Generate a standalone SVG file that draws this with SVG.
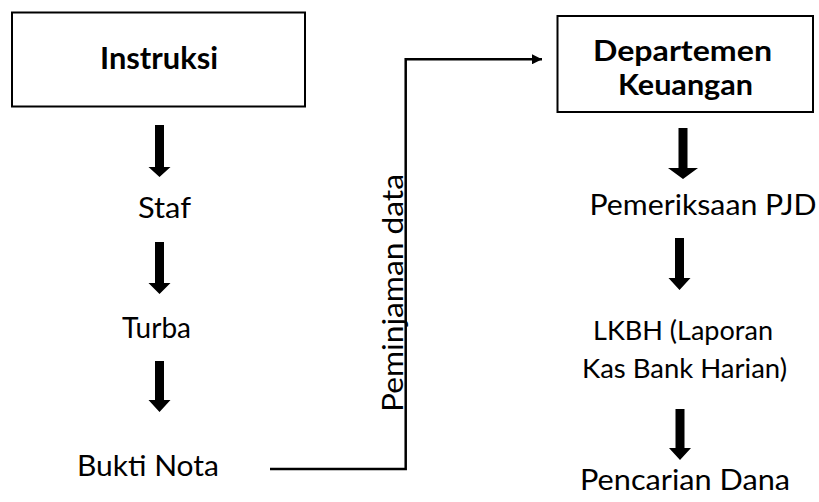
<svg xmlns="http://www.w3.org/2000/svg" width="819" height="502" viewBox="0 0 819 502">
<style>
.box{fill:#fff;stroke:#000;stroke-width:2}
.t{font-family:Lato,"Open Sans","Liberation Sans",sans-serif;fill:#000;text-anchor:middle}
.b{font-weight:bold;font-size:30px}
.b2{font-weight:bold;font-size:28px}
.r{font-size:29.5px}
.s{font-size:27.5px}
.ar{fill:#000;stroke:none}
.ln{fill:none;stroke:#000;stroke-width:2.5}
</style>
<defs>
<marker id="ah" markerUnits="userSpaceOnUse" markerWidth="12" markerHeight="10" refX="10" refY="5" orient="auto">
<path d="M0,0 L10,5 L0,10 Z" fill="#000"/>
</marker>
</defs>
<rect width="819" height="502" fill="#fff"/>
<g id="instruksi">
<rect class="box" x="12" y="12.5" width="293" height="94"/>
<text class="t b" x="159" y="69" textLength="118" lengthAdjust="spacingAndGlyphs">Instruksi</text>
</g>
<g id="staf"><text class="t r" x="164.5" y="217.5" textLength="53" lengthAdjust="spacingAndGlyphs">Staf</text></g>
<g id="turba"><text class="t r" x="156.5" y="338" textLength="69" lengthAdjust="spacingAndGlyphs">Turba</text></g>
<g id="bukti-nota"><text class="t r" x="148" y="476" textLength="142" lengthAdjust="spacingAndGlyphs">Bukti Nota</text></g>
<g id="departemen-keuangan">
<rect class="box" x="557.5" y="16" width="255.5" height="96"/>
<text class="t b2" x="682.5" y="61" textLength="179" lengthAdjust="spacingAndGlyphs">Departemen</text>
<text class="t b2" x="685.5" y="95" textLength="135" lengthAdjust="spacingAndGlyphs">Keuangan</text>
</g>
<g id="pemeriksaan"><text class="t r" x="703" y="215" textLength="227" lengthAdjust="spacingAndGlyphs">Pemeriksaan PJD</text></g>
<g id="lkbh">
<text class="t s" x="683" y="340" textLength="180" lengthAdjust="spacingAndGlyphs">LKBH (Laporan</text>
<text class="t s" x="684.5" y="378" textLength="205" lengthAdjust="spacingAndGlyphs">Kas Bank Harian)</text>
</g>
<g id="pencarian"><text class="t r" x="685" y="490" textLength="210" lengthAdjust="spacingAndGlyphs">Pencarian Dana</text></g>
<g id="connectors">
<polygon class="ar" points="155,125 164,125 164,167 170.5,167 159.5,177 148.5,167 155,167"/>
<polygon class="ar" points="155,242 164,242 164,283 170.5,283 159.5,294 148.5,283 155,283"/>
<polygon class="ar" points="155,361 164,361 164,400 170.5,400 159.5,412 148.5,400 155,400"/>
<polygon class="ar" points="678.5,128 687.5,128 687.5,168 698,168 683,179 668,168 678.5,168"/>
<polygon class="ar" points="675,238 684,238 684,278 690.5,278 679.5,290 668.5,278 675,278"/>
<polygon class="ar" points="675.5,409 684.5,409 684.5,448 691,448 680,460 669,448 675.5,448"/>
<polyline class="ln" points="270,469 405.7,469 405.7,59.3 542,59.3" marker-end="url(#ah)"/>
<text class="t r" transform="translate(402.5,293) rotate(-90)" textLength="238" lengthAdjust="spacingAndGlyphs">Peminjaman data</text>
</g>
</svg>
